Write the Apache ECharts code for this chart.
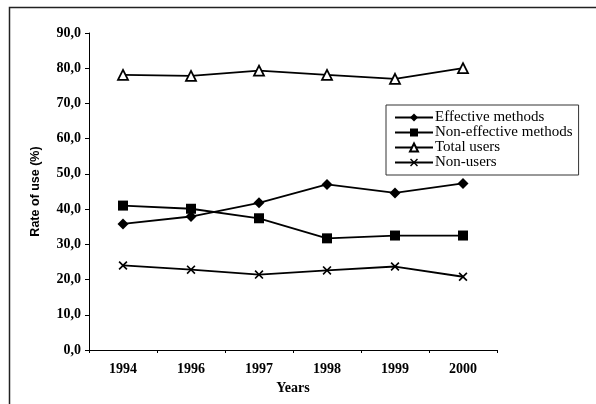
<!DOCTYPE html>
<html><head><meta charset="utf-8">
<script src="https://cdn.jsdelivr.net/npm/echarts@6/dist/echarts.min.js"></script>
<style>html,body{margin:0;padding:0;background:#fff}#c{width:596px;height:404px}</style>
</head><body><div id="c"></div>
<script>
const years = ['1994','1996','1997','1998','1999','2000'];
const effective = [35.8, 37.9, 41.8, 47.0, 44.6, 47.3];
const nonEffective = [41.0, 40.1, 37.4, 31.7, 32.5, 32.5];
const totalUsers = [78.1, 77.8, 79.3, 78.1, 77.0, 80.0];
const nonUsers = [24.0, 22.8, 21.4, 22.6, 23.7, 20.8];
const seriesNames = ['Effective methods','Non-effective methods','Total users','Non-users'];

const font = 'Liberation Serif';
const cross = 'path://M0,1.3 L1.3,0 L5,3.7 L8.7,0 L10,1.3 L6.3,5 L10,8.7 L8.7,10 L5,6.3 L1.3,10 L0,8.7 L3.7,5 Z';
function mk(name, data, symbol, size, hollow) {
  return {
    name, type: 'line', data, symbol, symbolSize: size,
    lineStyle: {color: '#000', width: 1.8},
    itemStyle: hollow ? {color: '#fff', borderColor: '#000', borderWidth: 1.8} : {color: '#000', borderColor:'#000', borderWidth: 0},
    emphasis: {disabled: true}, animation: false
  };
}
const chart = echarts.init(document.getElementById('c'));
chart.setOption({
  animation: false,
  backgroundColor: '#fff',
  graphic: [
    {type: 'rect', shape: {x: 9.5, y: 7.5, width: 620, height: 420}, style: {fill: 'none', stroke: '#222', lineWidth: 1.5}}
  ],
  grid: {left: 89, right: 99, top: 33, bottom: 54},
  legend: {
    orient: 'vertical', left: 386, top: 105, width: 195,
    itemWidth: 38, itemHeight: 10, itemGap: 0,
    padding: [5, 6, 5, 8],
    borderColor: '#333', borderWidth: 1,
    textStyle: {fontFamily: font, fontSize: 15, lineHeight: 13.5, color: '#000', padding: [0,0,0,-3]},
    data: seriesNames
  },
  xAxis: {
    type: 'category', data: years, boundaryGap: true,
    name: 'Years', nameLocation: 'middle', nameGap: 29,
    nameTextStyle: {fontFamily: font, fontSize: 14, fontWeight: 'bold', color: '#000'},
    axisLine: {lineStyle: {color: '#000', width: 1}},
    axisTick: {show: true, length: 3, lineStyle: {color: '#000'}},
    axisLabel: {fontFamily: font, fontSize: 14, fontWeight: 'bold', color: '#000', margin: 12}
  },
  yAxis: {
    type: 'value', min: 0, max: 90, interval: 10,
    name: 'Rate of use (%)', nameLocation: 'middle', nameGap: 47, nameRotate: 90,
    nameTextStyle: {fontFamily: 'Liberation Sans', fontSize: 12.5, fontWeight: 'bold', color: '#000'},
    axisLine: {show: true, lineStyle: {color: '#000', width: 1}},
    axisTick: {show: true, length: 4, lineStyle: {color: '#000'}},
    splitLine: {show: false},
    axisLabel: {fontFamily: font, fontSize: 14, fontWeight: 'bold', color: '#000', margin: 8,
      formatter: v => v.toFixed(1).replace('.', ',')}
  },
  series: [
    mk(seriesNames[0], effective, 'diamond', 11, false),
    mk(seriesNames[1], nonEffective, 'rect', 10, false),
    mk(seriesNames[2], totalUsers, 'triangle', 10, true),
    mk(seriesNames[3], nonUsers, cross, 9, false)
  ]
});
</script></body></html>
